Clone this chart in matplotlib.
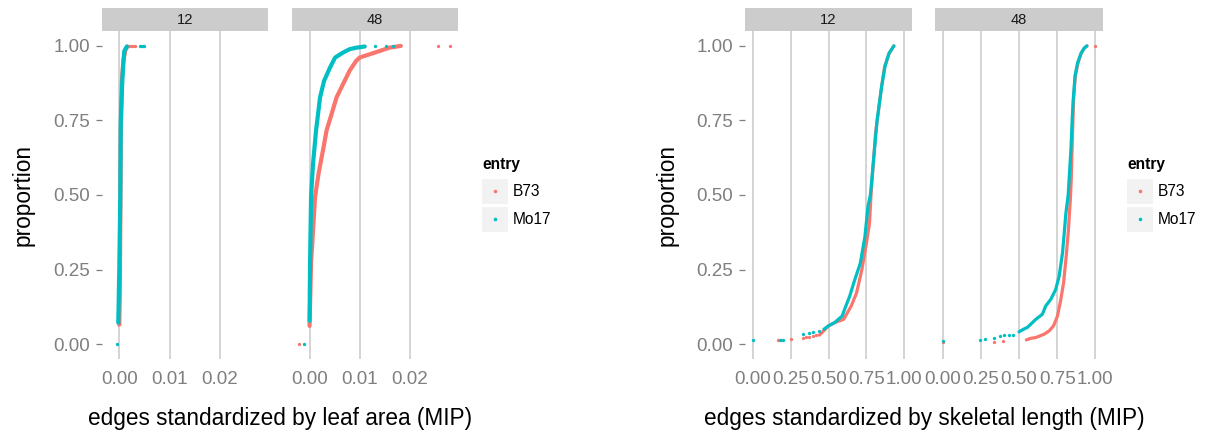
import matplotlib
matplotlib.use('Agg')
import matplotlib.pyplot as plt
from matplotlib.patches import Rectangle
from matplotlib.lines import Line2D

plt.rcParams['font.family'] = ['Liberation Sans', 'DejaVu Sans']

# colours (ggplot defaults)
RED = '#F8766D'
TEAL = '#00BFC4'

entries = ['B73', 'Mo17']
facets = ['12', '48']

# ---- edges standardized by leaf area, time 12 ----
leaf12_b73_x = [0.0000, 0.0001, 0.0002, 0.0003, 0.0005, 0.0008, 0.0012, 0.0016]
leaf12_b73_y = [0.065, 0.16, 0.40, 0.70, 0.88, 0.95, 0.985, 0.998]
leaf12_b73_dx = [0.0019, 0.0023, 0.0027, 0.0031]
leaf12_b73_dy = [1.0, 1.0, 1.0, 1.0]
leaf12_mo17_x = [-0.0002, 0.0000, 0.0002, 0.0003, 0.0006, 0.0008, 0.0010, 0.0015]
leaf12_mo17_y = [0.072, 0.25, 0.50, 0.75, 0.883, 0.94, 0.983, 0.998]
leaf12_mo17_dx = [-0.0004, 0.0041, 0.0044, 0.0047, 0.0050]
leaf12_mo17_dy = [0.0, 1.0, 1.0, 1.0, 1.0]

# ---- edges standardized by leaf area, time 48 ----
leaf48_b73_x = [0.0000, 0.0003, 0.0007, 0.0011, 0.0018, 0.0028, 0.0034, 0.0044, 0.0054,
                0.0070, 0.0080, 0.0093, 0.0100, 0.0120, 0.0140, 0.0159, 0.0182]
leaf48_b73_y = [0.061, 0.272, 0.383, 0.494, 0.572, 0.661, 0.717, 0.772, 0.828,
                0.883, 0.917, 0.950, 0.961, 0.972, 0.983, 0.994, 1.0]
leaf48_b73_dx = [-0.0021, 0.0257, 0.0280]
leaf48_b73_dy = [0.0, 1.0, 1.0]
leaf48_mo17_x = [0.0000, 0.0001, 0.0003, 0.0007, 0.0013, 0.0021, 0.0029, 0.0041, 0.0051,
                 0.0067, 0.0080, 0.0093, 0.0110]
leaf48_mo17_y = [0.078, 0.272, 0.494, 0.606, 0.717, 0.828, 0.883, 0.928, 0.961,
                 0.978, 0.989, 0.994, 0.998]
leaf48_mo17_dx = [-0.0012, 0.0130, 0.0153, 0.0166]
leaf48_mo17_dy = [0.0, 1.0, 1.0, 1.0]

# ---- edges standardized by skeletal length, time 12 ----
skel12_b73_x = [0.44, 0.50, 0.54, 0.60, 0.65, 0.685, 0.72, 0.75, 0.77, 0.78, 0.81,
                0.85, 0.87, 0.90, 0.93]
skel12_b73_y = [0.030, 0.061, 0.072, 0.083, 0.128, 0.172, 0.25, 0.339, 0.405, 0.50, 0.708,
                0.864, 0.931, 0.975, 1.0]
skel12_b73_dx = [0.17, 0.19, 0.25, 0.33, 0.35, 0.37, 0.40, 0.42]
skel12_b73_dy = [0.014, 0.014, 0.017, 0.022, 0.024, 0.025, 0.028, 0.029]
skel12_mo17_x = [0.47, 0.50, 0.54, 0.59, 0.61, 0.64, 0.67, 0.71, 0.74, 0.76, 0.776,
                 0.82, 0.85, 0.872, 0.898, 0.931]
skel12_mo17_y = [0.050, 0.061, 0.072, 0.094, 0.122, 0.161, 0.211, 0.272, 0.361, 0.461, 0.50,
                 0.75, 0.864, 0.931, 0.975, 1.0]
skel12_mo17_dx = [0.0, 0.18, 0.20, 0.33, 0.37, 0.40, 0.44]
skel12_mo17_dy = [0.013, 0.014, 0.015, 0.033, 0.037, 0.041, 0.044]

# ---- edges standardized by skeletal length, time 48 ----
skel48_b73_x = [0.548, 0.574, 0.61, 0.664, 0.697, 0.726, 0.752, 0.774, 0.792, 0.807, 0.822,
                0.836, 0.842, 0.850, 0.857, 0.869, 0.886, 0.907, 0.927, 0.946]
skel48_b73_y = [0.014, 0.019, 0.022, 0.033, 0.044, 0.061, 0.094, 0.15, 0.206, 0.283, 0.372,
                0.483, 0.55, 0.70, 0.82, 0.90, 0.942, 0.975, 0.992, 1.0]
skel48_b73_dx = [0.0, 0.334, 0.395, 1.0]
skel48_b73_dy = [0.007, 0.008, 0.010, 1.0]
skel48_mo17_x = [0.50, 0.53, 0.555, 0.61, 0.653, 0.675, 0.708, 0.74, 0.763, 0.785, 0.796,
                 0.807, 0.818, 0.822, 0.840, 0.848, 0.855, 0.867, 0.883, 0.906, 0.926, 0.944]
skel48_mo17_y = [0.041, 0.050, 0.056, 0.083, 0.100, 0.128, 0.150, 0.183, 0.228, 0.306, 0.372,
                 0.439, 0.483, 0.50, 0.652, 0.75, 0.82, 0.90, 0.942, 0.975, 0.992, 1.0]
skel48_mo17_dx = [0.0, 0.247, 0.28, 0.334, 0.373, 0.404, 0.432, 0.46]
skel48_mo17_dy = [0.011, 0.014, 0.016, 0.022, 0.028, 0.030, 0.031, 0.032]

leaf_ticks = [0.0, 0.01, 0.02]
leaf_ticklabels = ['0.00', '0.01', '0.02']
skel_ticks = [0.0, 0.25, 0.5, 0.75, 1.0]
skel_ticklabels = ['0.00', '0.25', '0.50', '0.75', '1.00']
y_ticks = [0.0, 0.25, 0.5, 0.75, 1.0]
y_ticklabels = ['0.00', '0.25', '0.50', '0.75', '1.00']

W, H = 1209, 432
fig = plt.figure(figsize=(W / 100, H / 100), dpi=100)
fig.patch.set_facecolor('white')

GRID = '#C9C9C9'
TICKCOL = '#7F7F7F'
TICKSIZE = 13.5
PANEL_TOP, PANEL_BOT = 31, 359
STRIP_TOP = 8


def px_axes(x0, y0, x1, y1):
    return fig.add_axes([x0 / W, 1 - y1 / H, (x1 - x0) / W, (y1 - y0) / H])


def draw_panel(x0, x1, xlim, ticks, ticklabels, facet, series, show_y, lw):
    ax = px_axes(x0, PANEL_TOP, x1, PANEL_BOT)
    ax.set_facecolor('white')
    for sp in ax.spines.values():
        sp.set_visible(False)
    ax.set_xlim(xlim)
    ax.set_ylim(-0.05, 1.05)
    ax.set_xticks(ticks)
    ax.set_xticklabels(ticklabels)
    ax.xaxis.grid(True, color=GRID, linewidth=1.1)
    ax.set_axisbelow(True)
    ax.tick_params(axis='x', length=0, pad=8.5, labelsize=TICKSIZE, labelcolor=TICKCOL)
    if show_y:
        ax.set_yticks(y_ticks)
        ax.set_yticklabels(y_ticklabels)
        ax.tick_params(axis='y', length=4.0, width=0.9, color=TICKCOL, pad=4.6,
                       labelsize=TICKSIZE, labelcolor=TICKCOL)
    else:
        ax.set_yticks([])
    for (cx, cy, dx, dy), col in zip(series, [RED, TEAL]):
        ax.plot(cx, cy, color=col, lw=lw, solid_capstyle='round', clip_on=False)
        ax.plot(dx, dy, 'o', color=col, markersize=2.4, markeredgewidth=0, clip_on=False)

    st = px_axes(x0, STRIP_TOP, x1, PANEL_TOP)
    st.set_facecolor('#CCCCCC')
    st.set_xticks([])
    st.set_yticks([])
    for sp in st.spines.values():
        sp.set_visible(False)
    st.text(0.5, 0.5, facet, ha='center', va='center', fontsize=10.6, color='#1A1A1A',
            transform=st.transAxes)
    return ax


def legend(x0):
    fig.text(x0 / W, 1 - 164 / H, 'entry', fontsize=11.2, fontweight='bold',
             ha='left', va='center')
    for i, (lab, col) in enumerate(zip(entries, [RED, TEAL])):
        top = 178 + i * 28.3
        fig.add_artist(Rectangle((x0 / W, 1 - (top + 26) / H), 26 / W, 25.5 / H,
                                 transform=fig.transFigure, facecolor='#F2F2F2',
                                 edgecolor='none'))
        cy = top + 13
        fig.add_artist(Line2D([(x0 + 13) / W], [1 - cy / H], transform=fig.transFigure,
                              marker='o', markersize=2.6, markeredgewidth=0, color=col))
        fig.text((x0 + 31) / W, 1 - cy / H, lab, fontsize=11.2, ha='left', va='center')


# left chart: leaf area
leaf_lim = (-0.0035, 0.0296)
draw_panel(101.7, 268, leaf_lim, leaf_ticks, leaf_ticklabels, facets[0],
           [(leaf12_b73_x, leaf12_b73_y, leaf12_b73_dx, leaf12_b73_dy),
            (leaf12_mo17_x, leaf12_mo17_y, leaf12_mo17_dx, leaf12_mo17_dy)], True, 3.0)
draw_panel(292, 458, leaf_lim, leaf_ticks, leaf_ticklabels, facets[1],
           [(leaf48_b73_x, leaf48_b73_y, leaf48_b73_dx, leaf48_b73_dy),
            (leaf48_mo17_x, leaf48_mo17_y, leaf48_mo17_dx, leaf48_mo17_dy)], False, 3.0)
fig.text(23.5 / W, 1 - 195 / H, 'proportion', rotation=90, fontsize=16.3,
         ha='center', va='center')
fig.text(280 / W, 1 - 418 / H, 'edges standardized by leaf area (MIP)', fontsize=16.3,
         ha='center', va='center')
legend(482)

# right chart: skeletal length
skel_lim = (-0.05, 1.05)
draw_panel(745, 912, skel_lim, skel_ticks, skel_ticklabels, facets[0],
           [(skel12_b73_x, skel12_b73_y, skel12_b73_dx, skel12_b73_dy),
            (skel12_mo17_x, skel12_mo17_y, skel12_mo17_dx, skel12_mo17_dy)], True, 2.3)
draw_panel(935, 1103, skel_lim, skel_ticks, skel_ticklabels, facets[1],
           [(skel48_b73_x, skel48_b73_y, skel48_b73_dx, skel48_b73_dy),
            (skel48_mo17_x, skel48_mo17_y, skel48_mo17_dx, skel48_mo17_dy)], False, 2.3)
fig.text(667 / W, 1 - 195 / H, 'proportion', rotation=90, fontsize=16.3,
         ha='center', va='center')
fig.text(924 / W, 1 - 418 / H, 'edges standardized by skeletal length (MIP)', fontsize=16.3,
         ha='center', va='center')
legend(1127)

fig.savefig('out.png', dpi=100)
